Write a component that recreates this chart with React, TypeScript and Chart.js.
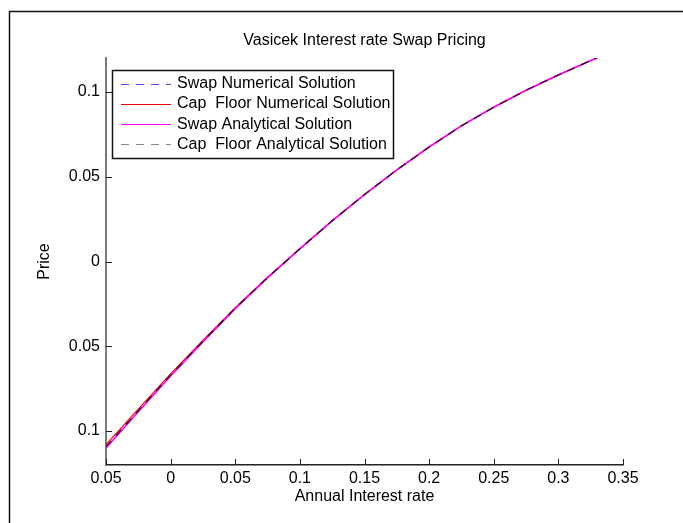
import React, { useEffect, useRef } from "react";
import { Chart, registerables } from "chart.js";

Chart.register(...registerables);

const chartTitle = "Vasicek Interest rate Swap Pricing";
const xAxisTitle = "Annual Interest rate";
const yAxisTitle = "Price";

const rates = [-0.05, -0.025, 0, 0.025, 0.05, 0.075, 0.1, 0.125, 0.15, 0.175, 0.2, 0.225, 0.25, 0.275, 0.3, 0.325, 0.33];

const swapNumerical = [-0.1093, -0.088, -0.067, -0.047, -0.0275, -0.0095, 0.0075, 0.024, 0.0395, 0.054, 0.0675, 0.08, 0.091, 0.101, 0.11, 0.1185, 0.12];
const capFloorNumerical = [-0.108, -0.087, -0.0663, -0.0465, -0.0272, -0.0093, 0.0076, 0.0241, 0.0395, 0.054, 0.0675, 0.08, 0.091, 0.101, 0.11, 0.1185, 0.12];
const swapAnalytical = [-0.11, -0.0886, -0.0675, -0.0474, -0.0278, -0.0097, 0.0074, 0.024, 0.0395, 0.054, 0.0675, 0.08, 0.091, 0.101, 0.11, 0.1185, 0.12];
const capFloorAnalytical = [-0.1093, -0.088, -0.067, -0.047, -0.0275, -0.0095, 0.0075, 0.024, 0.0395, 0.054, 0.0675, 0.08, 0.091, 0.101, 0.11, 0.1185, 0.12];

const seriesLabels = [
  "Swap Numerical Solution",
  "Cap  Floor Numerical Solution",
  "Swap Analytical Solution",
  "Cap  Floor Analytical Solution",
];

const xTicks = [-0.05, 0, 0.05, 0.1, 0.15, 0.2, 0.25, 0.3, 0.35];
const yTicks = [-0.1, -0.05, 0, 0.05, 0.1];
const xMin = -0.05;
const xMax = 0.35;
const yMin = -0.12;
const yMax = 0.12;

const FONT = "'Liberation Sans', Arial, Helvetica, sans-serif";
const FONT_SIZE = 16;

const toPoints = (ys: number[]) => rates.map((r, i) => ({ x: r, y: ys[i] }));
const fmt = (v: number) => String(Math.abs(Number(v)));

const decorPlugin = {
  id: "decor",
  beforeDraw(chart: any) {
    const ctx = chart.ctx;
    ctx.save();
    ctx.fillStyle = "#ffffff";
    ctx.fillRect(0, 0, chart.width, chart.height);
    ctx.restore();
  },
  afterDatasetsDraw(chart: any) {
    const { ctx, chartArea } = chart;
    const xs = chart.scales.x;
    const ys = chart.scales.y;
    ctx.save();
    ctx.strokeStyle = "#222";
    ctx.lineWidth = 1;
    ctx.beginPath();
    xs.ticks.forEach((t: any) => {
      const px = Math.round(xs.getPixelForValue(t.value)) + 0.5;
      ctx.moveTo(px, chartArea.bottom);
      ctx.lineTo(px, chartArea.bottom - 6);
    });
    ys.ticks.forEach((t: any) => {
      const py = Math.round(ys.getPixelForValue(t.value)) + 0.5;
      ctx.moveTo(chartArea.left, py);
      ctx.lineTo(chartArea.left + 6, py);
    });
    ctx.stroke();
    ctx.restore();
  },
  afterDraw(chart: any) {
    const { ctx, chartArea } = chart;
    ctx.save();
    // outer frame
    ctx.strokeStyle = "#111";
    ctx.lineWidth = 1.5;
    ctx.beginPath();
    ctx.moveTo(9.5, chart.height);
    ctx.lineTo(9.5, 11.5);
    ctx.lineTo(chart.width, 11.5);
    ctx.stroke();

    ctx.fillStyle = "#000";
    ctx.font = `${FONT_SIZE}px ${FONT}`;
    ctx.textAlign = "center";
    ctx.textBaseline = "middle";
    const cx = (chartArea.left + chartArea.right) / 2;
    ctx.fillText(chartTitle, cx, 41);
    ctx.fillText(xAxisTitle, cx, 497);
    ctx.save();
    ctx.translate(45, (chartArea.top + chartArea.bottom) / 2);
    ctx.rotate(-Math.PI / 2);
    ctx.fillText(yAxisTitle, 0, 0);
    ctx.restore();

    // legend
    const lx = 112.5, ly = 70.5, lw = 281, lh = 88;
    ctx.fillStyle = "#fff";
    ctx.fillRect(lx, ly, lw, lh);
    ctx.strokeStyle = "#111";
    ctx.lineWidth = 1.5;
    ctx.setLineDash([]);
    ctx.strokeRect(lx, ly, lw, lh);
    const ds = chart.data.datasets;
    ds.forEach((d: any, i: number) => {
      const yy = 83.5 + i * 20.3;
      ctx.save();
      ctx.strokeStyle = d.legendColor || d.borderColor;
      ctx.lineWidth = 1;
      ctx.setLineDash(d.borderDash || []);
      ctx.beginPath();
      ctx.moveTo(121, Math.round(yy) + 0.5);
      ctx.lineTo(171, Math.round(yy) + 0.5);
      ctx.stroke();
      ctx.restore();
      ctx.fillStyle = "#000";
      ctx.textAlign = "left";
      ctx.textBaseline = "middle";
      ctx.fillText(d.label, 177, yy);
    });
    ctx.restore();
  },
};

export default function App() {
  const canvasRef = useRef<HTMLCanvasElement | null>(null);

  useEffect(() => {
    const canvas = canvasRef.current;
    if (!canvas) return;
    const chart = new Chart(canvas, {
      type: "line",
      data: {
        datasets: [
          {
            label: seriesLabels[0],
            data: toPoints(swapNumerical),
            borderColor: "#4d4dff",
            borderWidth: 1,
            borderDash: [8, 7],
            pointRadius: 0,
            fill: false,
            order: 4,
          },
          {
            label: seriesLabels[1],
            data: toPoints(capFloorNumerical),
            borderColor: "#ee0000",
            borderWidth: 1.2,
            pointRadius: 0,
            fill: false,
            order: 3,
          },
          {
            label: seriesLabels[2],
            data: toPoints(swapAnalytical),
            borderColor: "#ff00ff",
            borderWidth: 1.6,
            pointRadius: 0,
            fill: false,
            order: 2,
          },
          {
            label: seriesLabels[3],
            data: toPoints(capFloorAnalytical),
            borderColor: "#2a0a2a",
            legendColor: "#888888",
            borderWidth: 1.2,
            borderDash: [8, 7],
            pointRadius: 0,
            fill: false,
            order: 1,
          } as any,
        ],
      },
      options: {
        animation: false,
        responsive: false,
        devicePixelRatio: 1,
        events: [],
        layout: { padding: { left: 0, right: 60, top: 58, bottom: 0 } },
        plugins: {
          legend: { display: false },
          title: { display: false },
          tooltip: { enabled: false },
        },
        scales: {
          x: {
            type: "linear",
            min: xMin,
            max: xMax,
            afterBuildTicks: (scale: any) => {
              scale.ticks = xTicks.map((v) => ({ value: v }));
            },
            afterFit: (scale: any) => {
              scale.height = 58;
            },
            grid: { display: false, drawTicks: false },
            border: { display: true, color: "#222", width: 1.5 },
            ticks: {
              padding: 4,
              maxRotation: 0,
              autoSkip: false,
              color: "#000",
              font: { family: FONT, size: FONT_SIZE },
              callback: (v: any) => fmt(v),
            },
          },
          y: {
            type: "linear",
            min: yMin,
            max: yMax,
            afterBuildTicks: (scale: any) => {
              scale.ticks = yTicks.map((v) => ({ value: v }));
            },
            afterFit: (scale: any) => {
              scale.width = 106;
            },
            grid: { display: false, drawTicks: false },
            border: { display: true, color: "#7a7a7a", width: 2 },
            ticks: {
              padding: 6,
              autoSkip: false,
              color: "#000",
              font: { family: FONT, size: FONT_SIZE },
              callback: (v: any) => fmt(v),
            },
          },
        },
      } as any,
      plugins: [decorPlugin],
    });
    return () => chart.destroy();
  }, []);

  return (
    <div style={{ position: "fixed", left: 0, top: 0, width: 683, height: 523, background: "#fff" }}>
      <canvas ref={canvasRef} width={683} height={523} style={{ display: "block" }} />
    </div>
  );
}
